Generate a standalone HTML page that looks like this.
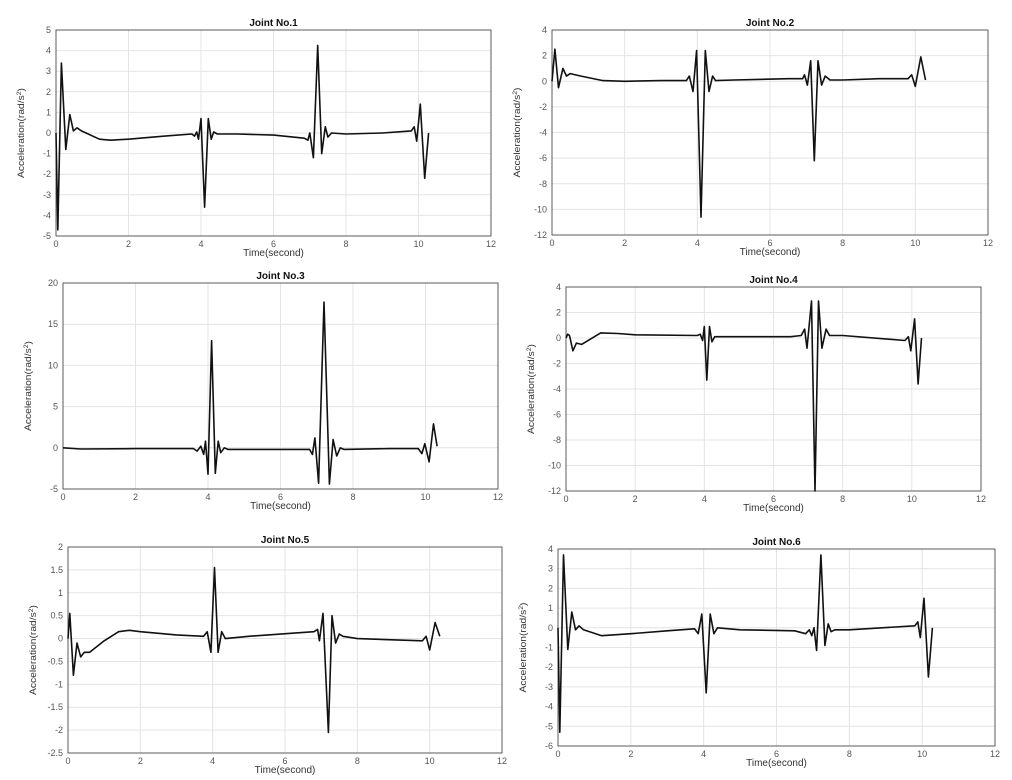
<!DOCTYPE html>
<html><head><meta charset="utf-8"><style>
html,body{margin:0;padding:0;background:#fff;}
svg{display:block;}
text{font-family:"Liberation Sans",sans-serif;}
</style></head><body>
<svg id="s" width="1012" height="780" xmlns="http://www.w3.org/2000/svg"></svg>
<script>
const P=[
{t:"Joint No.1",x0:56,x1:491,yt:30,yb:236,ymax:5,ymin:-5,step:1,
d:[[0,0],[0.05,-4.7],[0.15,3.4],[0.27,-0.8],[0.38,0.9],[0.48,0.1],[0.58,0.25],[0.7,0.1],[1.2,-0.3],[1.5,-0.35],[2,-0.3],[3,-0.15],[3.75,-0.05],[3.82,-0.15],[3.88,0.05],[3.93,-0.3],[4.0,0.7],[4.1,-3.6],[4.2,0.7],[4.28,-0.3],[4.35,0.05],[4.45,-0.05],[5,-0.05],[6,-0.1],[6.85,-0.25],[6.95,-0.35],[7.0,0],[7.1,-1.2],[7.22,4.25],[7.33,-1.0],[7.43,0.3],[7.5,-0.2],[7.6,0],[8,-0.05],[9,0],[9.8,0.1],[9.88,0.3],[9.95,-0.4],[10.05,1.4],[10.17,-2.2],[10.28,0]]},
{t:"Joint No.2",x0:552,x1:988,yt:30,yb:235,ymax:4,ymin:-12,step:2,
d:[[0,0],[0.08,2.5],[0.18,-0.5],[0.3,1.0],[0.4,0.4],[0.5,0.6],[0.8,0.4],[1.4,0.05],[2,0],[3,0.05],[3.7,0.05],[3.78,0.4],[3.88,-0.8],[3.98,2.4],[4.1,-10.6],[4.22,2.4],[4.32,-0.8],[4.42,0.4],[4.5,0.05],[5,0.1],[6.5,0.2],[6.9,0.2],[6.95,0.5],[7.03,-0.3],[7.12,1.6],[7.22,-6.2],[7.32,1.6],[7.42,-0.3],[7.52,0.4],[7.65,0.1],[8,0.1],[9,0.2],[9.8,0.2],[9.9,0.5],[10.0,-0.4],[10.15,1.9],[10.28,0.1]]},
{t:"Joint No.3",x0:63,x1:498,yt:283,yb:489,ymax:20,ymin:-5,step:5,
d:[[0,0],[0.5,-0.15],[2,-0.1],[3.6,-0.1],[3.7,-0.4],[3.8,0.2],[3.88,-0.8],[3.93,0.8],[4.0,-3.2],[4.1,13],[4.2,-3.1],[4.28,0.8],[4.35,-0.6],[4.45,0],[4.55,-0.2],[5,-0.2],[6.8,-0.2],[6.88,-0.8],[6.95,1.2],[7.05,-4.3],[7.2,17.7],[7.35,-4.4],[7.45,1.0],[7.55,-1.0],[7.65,0],[7.75,-0.2],[9,-0.1],[9.8,-0.1],[9.9,-0.7],[9.98,0.5],[10.1,-1.7],[10.22,2.9],[10.32,0.2]]},
{t:"Joint No.4",x0:566,x1:981,yt:287,yb:491,ymax:4,ymin:-12,step:2,
d:[[0,0],[0.05,0.3],[0.1,0.2],[0.2,-1.0],[0.3,-0.4],[0.45,-0.5],[1,0.4],[1.5,0.35],[2,0.25],[3.8,0.2],[3.88,0.3],[3.95,-0.2],[4.0,0.9],[4.07,-3.3],[4.15,0.9],[4.22,-0.3],[4.3,0.1],[5,0.1],[6.5,0.1],[6.8,0.2],[6.9,0.7],[6.97,-0.8],[7.1,2.9],[7.2,-12],[7.3,2.9],[7.4,-0.8],[7.52,0.7],[7.62,0.2],[8,0.2],[9.8,-0.2],[9.9,0.1],[9.97,-1.0],[10.08,1.5],[10.18,-3.6],[10.28,0]]},
{t:"Joint No.5",x0:68,x1:502,yt:547,yb:753,ymax:2,ymin:-2.5,step:0.5,
d:[[0,0],[0.05,0.55],[0.15,-0.8],[0.25,-0.1],[0.35,-0.4],[0.45,-0.3],[0.6,-0.3],[1,-0.05],[1.4,0.15],[1.7,0.18],[2,0.15],[3,0.08],[3.75,0.05],[3.85,0.15],[3.95,-0.3],[4.05,1.55],[4.15,-0.3],[4.25,0.15],[4.35,0],[5,0.05],[6.8,0.15],[6.9,0.2],[6.95,-0.05],[7.05,0.55],[7.2,-2.05],[7.3,0.5],[7.4,-0.1],[7.5,0.1],[7.6,0.05],[8,0],[9.8,-0.05],[9.9,0.05],[10.0,-0.25],[10.15,0.35],[10.28,0.05]]},
{t:"Joint No.6",x0:558,x1:995,yt:549,yb:746,ymax:4,ymin:-6,step:1,
d:[[0,0],[0.05,-5.3],[0.15,3.7],[0.27,-1.1],[0.38,0.8],[0.48,-0.1],[0.58,0.1],[0.7,-0.1],[1.2,-0.4],[2,-0.3],[3,-0.15],[3.75,-0.05],[3.85,-0.3],[3.95,0.7],[4.07,-3.3],[4.18,0.7],[4.28,-0.3],[4.38,0],[5,-0.1],[6.5,-0.15],[6.8,-0.3],[6.9,-0.1],[6.97,-0.4],[7.03,0],[7.1,-1.15],[7.22,3.7],[7.33,-0.9],[7.42,0.2],[7.5,-0.2],[7.6,-0.1],[8,-0.1],[9.8,0.1],[9.88,0.3],[9.95,-0.5],[10.05,1.5],[10.17,-2.5],[10.28,0]]}
];
let h="";
for(const p of P){
 const X=t=>p.x0+(p.x1-p.x0)*t/12, Y=v=>p.yb-(p.yb-p.yt)*(v-p.ymin)/(p.ymax-p.ymin);
 for(let t=2;t<12;t+=2)h+=`<line x1="${X(t)}" x2="${X(t)}" y1="${p.yt}" y2="${p.yb}" stroke="#e4e4e4" stroke-width="1"/>`;
 const n=Math.round((p.ymax-p.ymin)/p.step);
 for(let i=0;i<=n;i++){const v=p.ymin+i*p.step,y=Y(v);
  if(i>0&&i<n)h+=`<line x1="${p.x0}" x2="${p.x1}" y1="${y}" y2="${y}" stroke="#e4e4e4"/>`;
  h+=`<text x="${p.x0-5}" y="${y+3}" font-size="9" fill="#555" text-anchor="end">${+v.toFixed(1)}</text>`;}
 for(let t=0;t<=12;t+=2)h+=`<text x="${X(t)}" y="${p.yb+11}" font-size="9" fill="#555" text-anchor="middle">${t}</text>`;
 h+=`<rect x="${p.x0}" y="${p.yt}" width="${p.x1-p.x0}" height="${p.yb-p.yt}" fill="none" stroke="#333" stroke-width="0.8"/>`;
 h+=`<text x="${(p.x0+p.x1)/2}" y="${p.yt-4}" font-size="10" font-weight="bold" fill="#111" text-anchor="middle">${p.t}</text>`;
 h+=`<text x="${(p.x0+p.x1)/2}" y="${p.yb+20}" font-size="10" fill="#333" text-anchor="middle">Time(second)</text>`;
 const cy=(p.yt+p.yb)/2,cx=p.x0-32;
 h+=`<text transform="translate(${cx},${cy}) rotate(-90)" font-size="9" fill="#333" text-anchor="middle" textLength="90" lengthAdjust="spacingAndGlyphs">Acceleration(rad/s<tspan font-size="6" dy="-3">2</tspan><tspan dy="3">)</tspan></text>`;
 h+=`<polyline fill="none" stroke="#111" stroke-width="1.6" stroke-linejoin="round" points="${p.d.map(q=>X(q[0]).toFixed(1)+","+Y(q[1]).toFixed(1)).join(" ")}"/>`;
}
document.getElementById("s").innerHTML=h;
</script>
</body></html>
